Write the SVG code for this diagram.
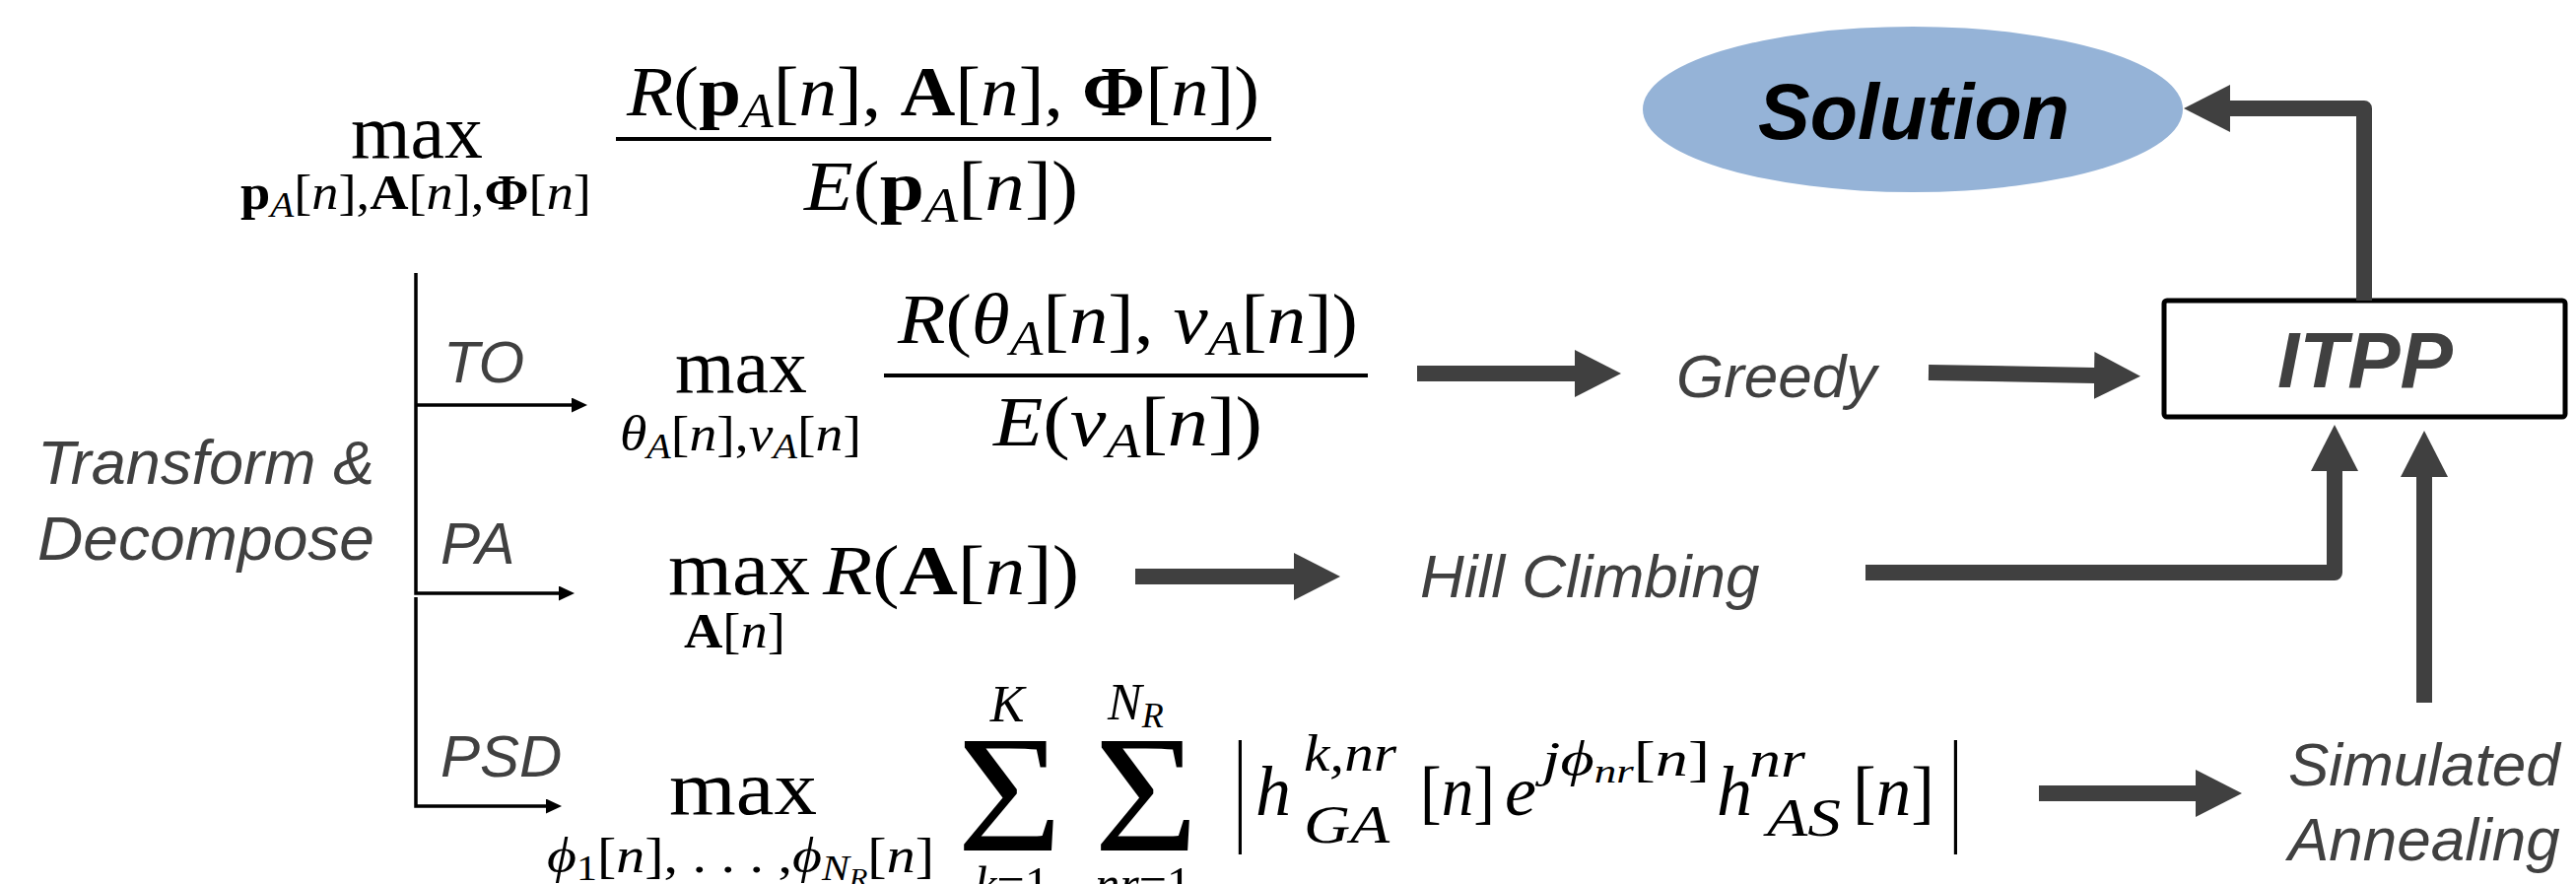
<svg xmlns="http://www.w3.org/2000/svg" width="2614" height="897" viewBox="0 0 2614 897">
<style>
.m{font-family:"Liberation Serif","Times New Roman",serif;fill:#000}
.i{font-style:italic}
.b{font-weight:bold;font-style:normal}
.lbl{font-family:"Liberation Sans",Arial,sans-serif;font-style:italic;fill:#404040}
.thick{fill:none;stroke:#404040;stroke-width:16;stroke-linejoin:round}
.thin{fill:none;stroke:#000;stroke-width:3.5}
</style>
<defs>
<marker id="big" markerUnits="userSpaceOnUse" markerWidth="47" markerHeight="48" viewBox="0 0 47 48" refX="1" refY="24" orient="auto">
<path d="M0,0 L47,24 L0,48 z" fill="#404040"/>
</marker>
<marker id="small" markerUnits="userSpaceOnUse" markerWidth="16" markerHeight="15" viewBox="0 0 16 15" refX="1" refY="7.5" orient="auto">
<path d="M0,0 L16,7.5 L0,15 z" fill="#000"/>
</marker>
</defs>
<rect width="2614" height="897" fill="#fff"/>

<g id="formula-main">
<text class="m" x="423" y="160" font-size="78" text-anchor="middle" textLength="134" lengthAdjust="spacingAndGlyphs">max</text>
<text class="m" x="244" y="212" font-size="50" textLength="356" lengthAdjust="spacingAndGlyphs"><tspan class="b">p</tspan><tspan class="i" font-size="36" dy="8">A</tspan><tspan dy="-8">[</tspan><tspan class="i">n</tspan>],<tspan class="b">A</tspan>[<tspan class="i">n</tspan>],<tspan class="b">Φ</tspan>[<tspan class="i">n</tspan>]</text>
<text class="m" x="636" y="117" font-size="72" textLength="642" lengthAdjust="spacingAndGlyphs"><tspan class="i">R</tspan>(<tspan class="b">p</tspan><tspan class="i" font-size="50" dy="12">A</tspan><tspan dy="-12">[</tspan><tspan class="i">n</tspan>], <tspan class="b">A</tspan>[<tspan class="i">n</tspan>], <tspan class="b">Φ</tspan>[<tspan class="i">n</tspan>])</text>
<rect x="625" y="139" width="665" height="4" fill="#000"/>
<text class="m" x="816" y="213" font-size="72" textLength="278" lengthAdjust="spacingAndGlyphs"><tspan class="i">E</tspan>(<tspan class="b">p</tspan><tspan class="i" font-size="50" dy="12">A</tspan><tspan dy="-12">[</tspan><tspan class="i">n</tspan>])</text>
</g>

<g id="formula-to">
<text class="m" x="752" y="398" font-size="78" text-anchor="middle" textLength="134" lengthAdjust="spacingAndGlyphs">max</text>
<text class="m" x="629" y="457" font-size="50" textLength="245" lengthAdjust="spacingAndGlyphs"><tspan class="i">θ</tspan><tspan class="i" font-size="36" dy="8">A</tspan><tspan dy="-8">[</tspan><tspan class="i">n</tspan>],<tspan class="i">v</tspan><tspan class="i" font-size="36" dy="8">A</tspan><tspan dy="-8">[</tspan><tspan class="i">n</tspan>]</text>
<text class="m" x="911" y="348" font-size="72" textLength="467" lengthAdjust="spacingAndGlyphs"><tspan class="i">R</tspan>(<tspan class="i">θ</tspan><tspan class="i" font-size="50" dy="12">A</tspan><tspan dy="-12">[</tspan><tspan class="i">n</tspan>], <tspan class="i">v</tspan><tspan class="i" font-size="50" dy="12">A</tspan><tspan dy="-12">[</tspan><tspan class="i">n</tspan>])</text>
<rect x="897" y="379" width="491" height="4" fill="#000"/>
<text class="m" x="1008" y="452" font-size="72" textLength="273" lengthAdjust="spacingAndGlyphs"><tspan class="i">E</tspan>(<tspan class="i">v</tspan><tspan class="i" font-size="50" dy="12">A</tspan><tspan dy="-12">[</tspan><tspan class="i">n</tspan>])</text>
</g>

<g id="formula-pa">
<text class="m" x="750" y="603" font-size="78" text-anchor="middle" textLength="144" lengthAdjust="spacingAndGlyphs">max</text>
<text class="m" x="835" y="603" font-size="72" textLength="260" lengthAdjust="spacingAndGlyphs"><tspan class="i">R</tspan>(<tspan class="b">A</tspan>[<tspan class="i">n</tspan>])</text>
<text class="m" x="694" y="657" font-size="50" textLength="103" lengthAdjust="spacingAndGlyphs"><tspan class="b">A</tspan>[<tspan class="i">n</tspan>]</text>
</g>

<g id="formula-psd">
<text class="m" x="754" y="826" font-size="78" text-anchor="middle" textLength="150" lengthAdjust="spacingAndGlyphs">max</text>
<text class="m" x="555" y="885" font-size="50" textLength="393" lengthAdjust="spacingAndGlyphs"><tspan class="i">ϕ</tspan><tspan font-size="36" dy="8">1</tspan><tspan dy="-8">[</tspan><tspan class="i">n</tspan>], . . . ,<tspan class="i">ϕ</tspan><tspan class="i" font-size="36" dy="8">N</tspan><tspan class="i" font-size="26" dy="6">R</tspan><tspan dy="-14">[</tspan><tspan class="i">n</tspan>]</text>
<text class="m" x="971" y="863" font-size="170" textLength="107" lengthAdjust="spacingAndGlyphs">Σ</text>
<text class="m" x="1110" y="863" font-size="170" textLength="106" lengthAdjust="spacingAndGlyphs">Σ</text>
<text class="m i" x="1022" y="732" font-size="52" text-anchor="middle">K</text>
<text class="m" x="1124" y="730" font-size="52"><tspan class="i">N</tspan><tspan class="i" font-size="36" dy="8">R</tspan></text>
<text class="m" x="1027" y="914" font-size="50" text-anchor="middle"><tspan class="i">k</tspan>=1</text>
<text class="m" x="1160" y="914" font-size="50" text-anchor="middle"><tspan class="i">nr</tspan>=1</text>
<text class="m" x="1250" y="840" font-size="128" transform="translate(1254 0) scale(0.5 1) translate(-1254 0)">|</text>
<text class="m i" x="1274" y="827" font-size="72">h</text>
<text class="m i" x="1323" y="782" font-size="52" textLength="94" lengthAdjust="spacingAndGlyphs">k,nr</text>
<text class="m i" x="1323" y="855" font-size="54" textLength="87" lengthAdjust="spacingAndGlyphs">GA</text>
<text class="m" x="1441" y="827" font-size="72" textLength="76" lengthAdjust="spacingAndGlyphs">[<tspan class="i">n</tspan>]</text>
<text class="m i" x="1527" y="827" font-size="72">e</text>
<text class="m" x="1565" y="787" font-size="50" textLength="170" lengthAdjust="spacingAndGlyphs"><tspan class="i">jϕ</tspan><tspan class="i" font-size="34" dy="7">nr</tspan><tspan dy="-7">[</tspan><tspan class="i">n</tspan>]</text>
<text class="m i" x="1742" y="827" font-size="72">h</text>
<text class="m i" x="1775" y="788" font-size="52" textLength="57" lengthAdjust="spacingAndGlyphs">nr</text>
<text class="m i" x="1793" y="848" font-size="54" textLength="75" lengthAdjust="spacingAndGlyphs">AS</text>
<text class="m" x="1880" y="827" font-size="72" textLength="83" lengthAdjust="spacingAndGlyphs">[<tspan class="i">n</tspan>]</text>
<text class="m" x="1976" y="840" font-size="128" transform="translate(1980 0) scale(0.5 1) translate(-1980 0)">|</text>
</g>

<g id="label-transform">
<text class="lbl" x="38" y="491" font-size="63" textLength="342" lengthAdjust="spacingAndGlyphs">Transform &amp;</text>
<text class="lbl" x="38" y="568" font-size="63" textLength="342" lengthAdjust="spacingAndGlyphs">Decompose</text>
</g>
<g id="label-to"><text class="lbl" x="450" y="388" font-size="60">TO</text></g>
<g id="label-pa"><text class="lbl" x="447" y="572" font-size="60">PA</text></g>
<g id="label-psd"><text class="lbl" x="447" y="788" font-size="60">PSD</text></g>

<g id="node-greedy"><text class="lbl" x="1701" y="403" font-size="62">Greedy</text></g>
<g id="node-hill"><text class="lbl" x="1441" y="606" font-size="62">Hill Climbing</text></g>
<g id="node-sa">
<text class="lbl" x="2322" y="797" font-size="62">Simulated</text>
<text class="lbl" x="2322" y="873" font-size="62">Annealing</text>
</g>
<g id="node-itpp">
<rect x="2196" y="305" width="407" height="118" rx="3" fill="#fff" stroke="#000" stroke-width="5"/>
<text x="2400" y="393" font-size="80" text-anchor="middle" font-family="Liberation Sans,Arial,sans-serif" font-weight="bold" font-style="italic" fill="#404040">ITPP</text>
</g>
<g id="node-solution">
<ellipse cx="1941" cy="111" rx="274" ry="84" fill="#95b3d7"/>
<text x="1942" y="141" font-size="79" text-anchor="middle" font-family="Liberation Sans,Arial,sans-serif" font-weight="bold" font-style="italic" fill="#000">Solution</text>
</g>

<g id="connectors">
<path class="thin" d="M422,277 V602 H568" marker-end="url(#small)"/>
<path class="thin" d="M422,411 H581" marker-end="url(#small)"/>
<path class="thin" d="M422,606 V818 H555" marker-end="url(#small)"/>
<path class="thick" d="M1438,379 H1599" marker-end="url(#big)"/>
<path class="thick" d="M1957,378 L2126,381" marker-end="url(#big)"/>
<path class="thick" d="M1152,585 H1314" marker-end="url(#big)"/>
<path class="thick" d="M2069,805 H2229" marker-end="url(#big)"/>
<path class="thick" d="M1893,581 H2369 V477" marker-end="url(#big)"/>
<path class="thick" d="M2460,713 V483" marker-end="url(#big)"/>
<path class="thick" d="M2399,305 V110 H2262" marker-end="url(#big)"/>
</g>
</svg>
